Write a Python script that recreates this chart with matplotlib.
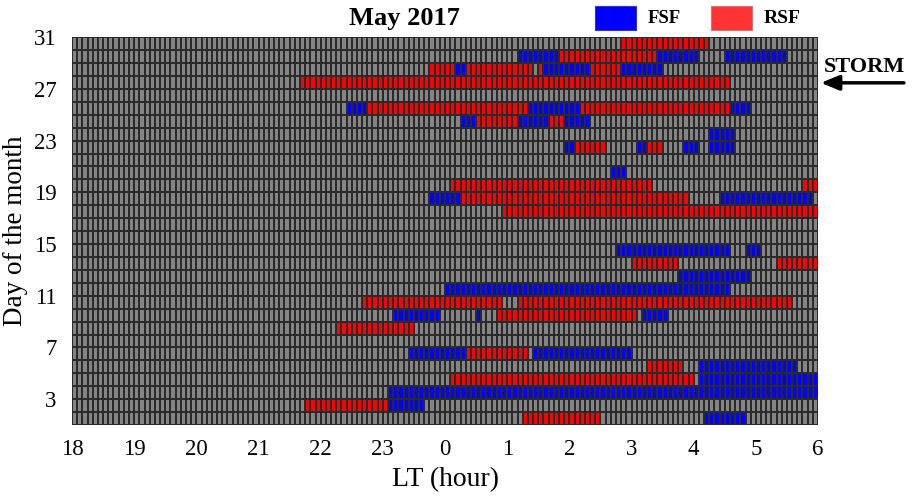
import numpy as np
import matplotlib.pyplot as plt
from matplotlib.colors import ListedColormap

plt.rcParams['font.family'] = ['Liberation Serif', 'DejaVu Serif']

# time axis: hours after 18:00 LT, 5-minute bins
n_per_hour = 12
n_hours = 12
days = np.arange(1, 31)  # each row spans day d .. d+1

x_tick_labels = ['18', '19', '20', '21', '22', '23', '0', '1', '2', '3', '4', '5', '6']
y_ticks = [3, 7, 11, 15, 19, 23, 27, 31]

# FSF (blue) segments per day, hours after 18 LT
fsf = {
    29: [(7.16, 7.82), (9.41, 10.07), (10.49, 11.48)],
    28: [(6.16, 6.32), (7.58, 8.32), (8.81, 9.49)],
    25: [(4.42, 4.75), (7.32, 8.16), (10.57, 10.89)],
    24: [(6.24, 6.50), (7.16, 7.66), (7.90, 8.32)],
    23: [(10.25, 10.65)],
    22: [(7.90, 8.07), (9.07, 9.25), (9.83, 10.07), (10.25, 10.65)],
    20: [(8.65, 8.91)],
    18: [(5.74, 6.24), (10.41, 11.90)],
    14: [(8.75, 10.57), (10.83, 11.07)],
    12: [(9.73, 10.89)],
    11: [(6.00, 10.57)],
    9: [(5.16, 5.90), (6.50, 6.58), (9.15, 9.57)],
    6: [(5.42, 6.32), (7.40, 8.99)],
    5: [(10.07, 11.65)],
    4: [(10.07, 12.0)],
    3: [(5.08, 12.0)],
    2: [(5.08, 5.65)],
    1: [(10.15, 10.81)],
}

# RSF (red) segments per day
rsf = {
    30: [(8.80, 10.23)],
    29: [(7.82, 9.41)],
    28: [(5.74, 6.16), (6.32, 7.40), (7.48, 7.58), (8.32, 8.81)],
    27: [(3.67, 10.57)],
    25: [(4.75, 7.32), (8.16, 10.57)],
    24: [(6.50, 7.16), (7.66, 7.90)],
    22: [(8.07, 8.57), (9.25, 9.49)],
    19: [(6.08, 9.33), (11.74, 12.0)],
    18: [(6.24, 9.89)],
    17: [(6.92, 12.0)],
    13: [(8.99, 9.73), (11.32, 12.0)],
    10: [(4.66, 6.90), (7.16, 11.57)],
    9: [(6.84, 9.07)],
    8: [(4.25, 5.48)],
    6: [(6.32, 7.32)],
    5: [(9.25, 9.81)],
    4: [(6.08, 10.0)],
    2: [(3.75, 5.08)],
    1: [(7.24, 8.49)],
}

# build the grid: 0 = no data/gray, 1 = FSF, 2 = RSF
ncol = n_per_hour * n_hours
grid = np.zeros((len(days), ncol))
for code, segs in [(1, fsf), (2, rsf)]:
    for d, lst in segs.items():
        for s, e in lst:
            i0 = int(round(s * n_per_hour))
            i1 = int(round(e * n_per_hour))
            grid[d - 1, i0:i1] = code

x_edges = np.arange(ncol + 1) / n_per_hour
y_edges = np.arange(1, 32)

fig = plt.figure(figsize=(9.14, 4.96), dpi=100)
ax = fig.add_axes([0.0788, 0.143, 0.8162, 0.782])

cmap = ListedColormap(['#848484', '#0000ff', '#ff0000'])
ax.pcolormesh(x_edges, y_edges, grid, cmap=cmap, vmin=-0.5, vmax=2.5,
              edgecolors='#2a2a2a', linewidth=0.35)

ax.set_xlim(0, n_hours)
ax.set_ylim(1, 31)
ax.set_xticks(np.arange(n_hours + 1))
ax.set_xticklabels(x_tick_labels)
ax.set_yticks(y_ticks)
ax.tick_params(length=0, labelsize=16.5, pad=10)
ax.tick_params(axis='y', pad=11)
for sp in ax.spines.values():
    sp.set_visible(False)

ax.set_xlabel('LT (hour)', fontsize=20, labelpad=5)
ax.set_ylabel('Day of the month', fontsize=19.5, labelpad=4)

# title and legend boxes
fig.text(0.443, 0.962, 'May 2017', ha='center', va='center',
         fontsize=19, fontweight='bold')
fig.patches.append(plt.Rectangle((0.651, 0.940), 0.045, 0.047,
                                 transform=fig.transFigure,
                                 facecolor='#0000ff', edgecolor='#3333aa',
                                 linewidth=0.8))
fig.text(0.709, 0.963, 'FSF', ha='left', va='center',
         fontsize=13.5, fontweight='bold')
fig.patches.append(plt.Rectangle((0.778, 0.940), 0.045, 0.047,
                                 transform=fig.transFigure,
                                 facecolor='#ff3333', edgecolor='#cc7777',
                                 linewidth=0.8))
fig.text(0.836, 0.963, 'RSF', ha='left', va='center',
         fontsize=14, fontweight='bold')

# storm marker
fig.text(0.946, 0.865, 'STORM', ha='center', va='center',
         fontsize=16, fontweight='bold')
ax.annotate('', xy=(0.895, 0.833), xycoords='figure fraction',
            xytext=(0.992, 0.833), textcoords='figure fraction',
            arrowprops=dict(arrowstyle='-|>,head_length=1.1,head_width=0.45',
                            color='black', lw=2.5),
            annotation_clip=False)

plt.savefig('out.png', dpi=100)
